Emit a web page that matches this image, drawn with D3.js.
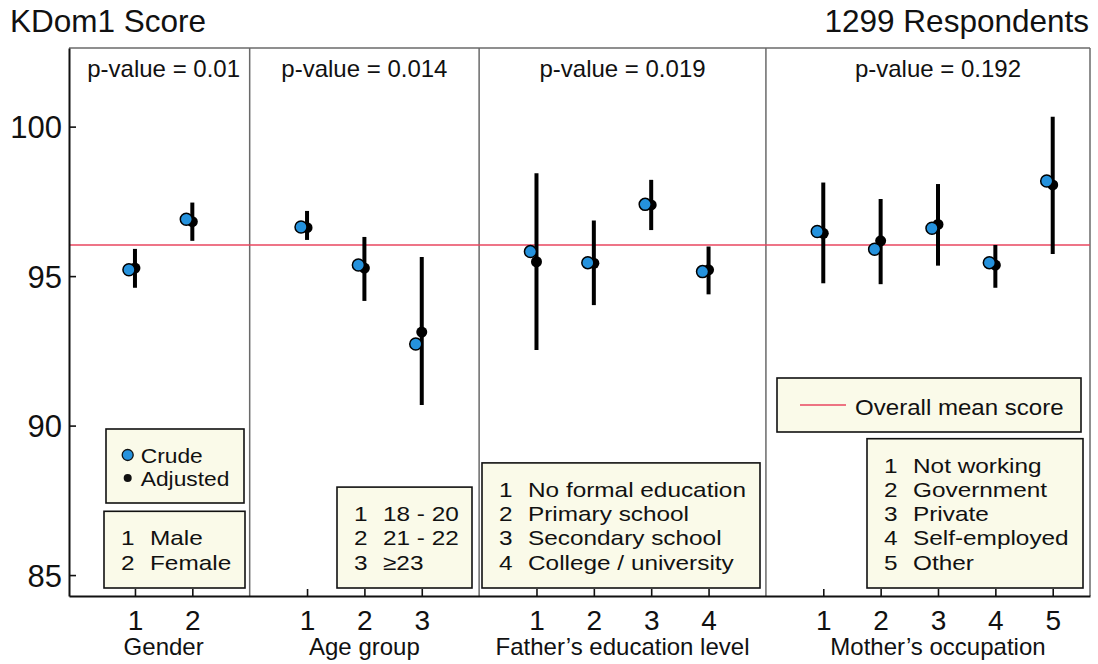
<!DOCTYPE html>
<html>
<head>
<meta charset="utf-8">
<script src="https://d3js.org/d3.v7.min.js"></script>
<style>
body { margin: 0; background: #fff; }
text { font-family: "Liberation Sans", Arial, sans-serif; fill: #111; }
</style>
</head>
<body>
<svg id="chart" width="1098" height="664"></svg>
<script>
// data
const groupNames = ["Gender", "Age group", "Father\u2019s education level", "Mother\u2019s occupation"];
const pValues = ["0.01", "0.014", "0.019", "0.192"];
const genderCats = ["Male", "Female"];
const ageCats = ["18 - 20", "21 - 22", "\u226523"];
const fatherCats = ["No formal education", "Primary school", "Secondary school", "College / university"];
const motherCats = ["Not working", "Government", "Private", "Self-employed", "Other"];

const crude = [
    [95.21, 96.90],
    [96.64, 95.37, 92.73],
    [95.82, 95.45, 97.40, 95.15],
    [96.49, 95.90, 96.60, 95.45, 98.18]
];
const adjusted = [
    [95.27, 96.82],
    [96.62, 95.27, 93.13],
    [95.48, 95.43, 97.38, 95.21],
    [96.43, 96.18, 96.73, 95.37, 98.05]
];
const ciLow = [
    [94.61, 96.18],
    [96.21, 94.17, 90.69],
    [92.53, 94.03, 96.54, 94.39],
    [94.76, 94.73, 95.35, 94.61, 95.74]
];
const ciHigh = [
    [95.91, 97.46],
    [97.18, 96.31, 95.64],
    [98.44, 96.86, 98.22, 95.99],
    [98.13, 97.58, 98.08, 96.04, 100.33]
];
const overallMean = 96.04;
const yTicks = [85, 90, 95, 100];
const respondents = 1299;

const catLists = [genderCats, ageCats, fatherCats, motherCats];

// positions on one continuous x axis, one empty slot between groups
let groups = [];
let points = [];
let start = 1;
catLists.forEach(function(cats, g) {
    groups.push({ name: groupNames[g], p: pValues[g], cats: cats, start: start, end: start + cats.length - 1 });
    cats.forEach(function(c, i) {
        points.push({
            pos: start + i,
            num: i + 1,
            crude: crude[g][i],
            adj: adjusted[g][i],
            lo: ciLow[g][i],
            hi: ciHigh[g][i]
        });
    });
    start += cats.length + 1;
});

const svg = d3.select("#chart");
const plotLeft = 69, plotRight = 1090, plotTop = 48, plotBottom = 596;

let x = d3.scaleLinear().domain([-0.15, start - 1 - 0.35]).range([plotLeft, plotRight]);
let y = d3.scaleLinear().domain([84.30, 102.63]).range([plotBottom, plotTop]);

// legend text in the original is a little wide for its height
function wideText(parent, tx, ty, str, size, sx) {
    return parent.append("text")
        .attr("transform", "translate(" + tx + "," + ty + ") scale(" + sx + ",1)")
        .style("font-size", size + "px")
        .text(str);
}

// titles
svg.append("text")
    .attr("x", 10).attr("y", 32)
    .style("font-size", "31.5px")
    .text("KDom1 Score");
svg.append("text")
    .attr("x", plotRight - 1).attr("y", 32)
    .attr("text-anchor", "end")
    .style("font-size", "31.5px")
    .text(respondents + " Respondents");

// frame: top, right and the group dividers
let frame = svg.append("g").attr("stroke", "#6a6a6a").attr("stroke-width", 1.5);
frame.append("line").attr("x1", plotLeft).attr("x2", plotRight).attr("y1", plotTop).attr("y2", plotTop);
frame.append("line").attr("x1", plotRight).attr("x2", plotRight).attr("y1", plotTop).attr("y2", plotBottom);
groups.slice(1).forEach(function(g) {
    frame.append("line")
        .attr("x1", x(g.start - 1)).attr("x2", x(g.start - 1))
        .attr("y1", plotTop).attr("y2", plotBottom);
});

// overall mean
svg.append("line")
    .attr("x1", plotLeft).attr("x2", plotRight)
    .attr("y1", y(overallMean)).attr("y2", y(overallMean))
    .attr("stroke", "#e8465f")
    .attr("stroke-width", 1.6);

// p-values and group titles
svg.selectAll(".pval")
    .data(groups)
    .enter().append("text")
    .attr("class", "pval")
    .attr("x", function(d) { return x((d.start + d.end) / 2); })
    .attr("y", 77)
    .attr("text-anchor", "middle")
    .style("font-size", "24px")
    .text(function(d) { return "p-value = " + d.p; });

svg.selectAll(".gtitle")
    .data(groups)
    .enter().append("text")
    .attr("class", "gtitle")
    .attr("x", function(d) { return x((d.start + d.end) / 2); })
    .attr("y", 655)
    .attr("text-anchor", "middle")
    .style("font-size", "24px")
    .text(function(d) { return d.name; });

// legend boxes
function box(x0, y0, x1, y1) {
    let g = svg.append("g");
    g.append("rect")
        .attr("x", x0).attr("y", y0)
        .attr("width", x1 - x0).attr("height", y1 - y0)
        .attr("fill", "#fafae9")
        .attr("stroke", "#111")
        .attr("stroke-width", 1.6);
    return g;
}

function keyBox(g, x0, x1, y1) {
    let n = g.cats.length;
    let b = box(x0, y1 - 18.5 - (n - 1) * 24.2 - 34, x1, y1);
    g.cats.forEach(function(c, i) {
        let yy = y1 - 18.5 - (n - 1 - i) * 24.2;
        wideText(b, x0 + 17, yy, i + 1, 21, 1.16);
        wideText(b, x0 + 46, yy, c, 21, 1.16);
    });
}

// crude / adjusted
let lb = box(106, 429, 244, 503);
lb.append("circle").attr("cx", 127.7).attr("cy", 455).attr("r", 5.5)
    .attr("fill", "#2592dd").attr("stroke", "#111").attr("stroke-width", 1.3);
lb.append("circle").attr("cx", 127.7).attr("cy", 478).attr("r", 4).attr("fill", "#111");
wideText(lb, 140.7, 463, "Crude", 20, 1.14);
wideText(lb, 140.7, 486, "Adjusted", 20, 1.14);

// overall mean key
let mb = box(777, 378, 1081, 432);
mb.append("line").attr("x1", 800).attr("x2", 846).attr("y1", 405).attr("y2", 405)
    .attr("stroke", "#e8465f").attr("stroke-width", 1.6);
wideText(mb, 855, 415, "Overall mean score", 21.5, 1.12);

keyBox(groups[0], 104, 245, 588);
keyBox(groups[1], 337, 472, 588);
keyBox(groups[2], 482, 760, 588);
keyBox(groups[3], 867, 1083, 588);

// axes
let yAxis = svg.append("g")
    .attr("transform", "translate(" + plotLeft + ",0)")
    .call(d3.axisLeft(y).tickValues(yTicks).tickSize(-7).tickSizeOuter(0).tickPadding(7));
yAxis.selectAll("text").style("font-size", "31px").attr("dy", "0.36em");

let xAxis = svg.append("g")
    .attr("transform", "translate(0," + plotBottom + ")")
    .call(d3.axisBottom(x)
        .tickValues(points.map(function(d) { return d.pos; }))
        .tickFormat(function(d, i) { return points[i].num; })
        .tickSize(-7).tickSizeOuter(0).tickPadding(14));
xAxis.selectAll("text").style("font-size", "28px");

svg.selectAll(".domain").attr("stroke", "#111").attr("stroke-width", 2);
svg.selectAll(".tick line").attr("stroke", "#111").attr("stroke-width", 1.6);

// error bars, adjusted then crude on top
const shift = 0.105;
svg.selectAll(".ci")
    .data(points)
    .enter().append("line")
    .attr("class", "ci")
    .attr("x1", function(d) { return x(d.pos); })
    .attr("x2", function(d) { return x(d.pos); })
    .attr("y1", function(d) { return y(d.lo); })
    .attr("y2", function(d) { return y(d.hi); })
    .attr("stroke", "#000")
    .attr("stroke-width", 4);

svg.selectAll(".adj")
    .data(points)
    .enter().append("circle")
    .attr("class", "adj")
    .attr("cx", function(d) { return x(d.pos); })
    .attr("cy", function(d) { return y(d.adj); })
    .attr("r", 5.5)
    .attr("fill", "#000");

svg.selectAll(".crude")
    .data(points)
    .enter().append("circle")
    .attr("class", "crude")
    .attr("cx", function(d) { return x(d.pos - shift); })
    .attr("cy", function(d) { return y(d.crude); })
    .attr("r", 6)
    .attr("fill", "#2592dd")
    .attr("stroke", "#000")
    .attr("stroke-width", 1.5);
</script>
</body>
</html>
